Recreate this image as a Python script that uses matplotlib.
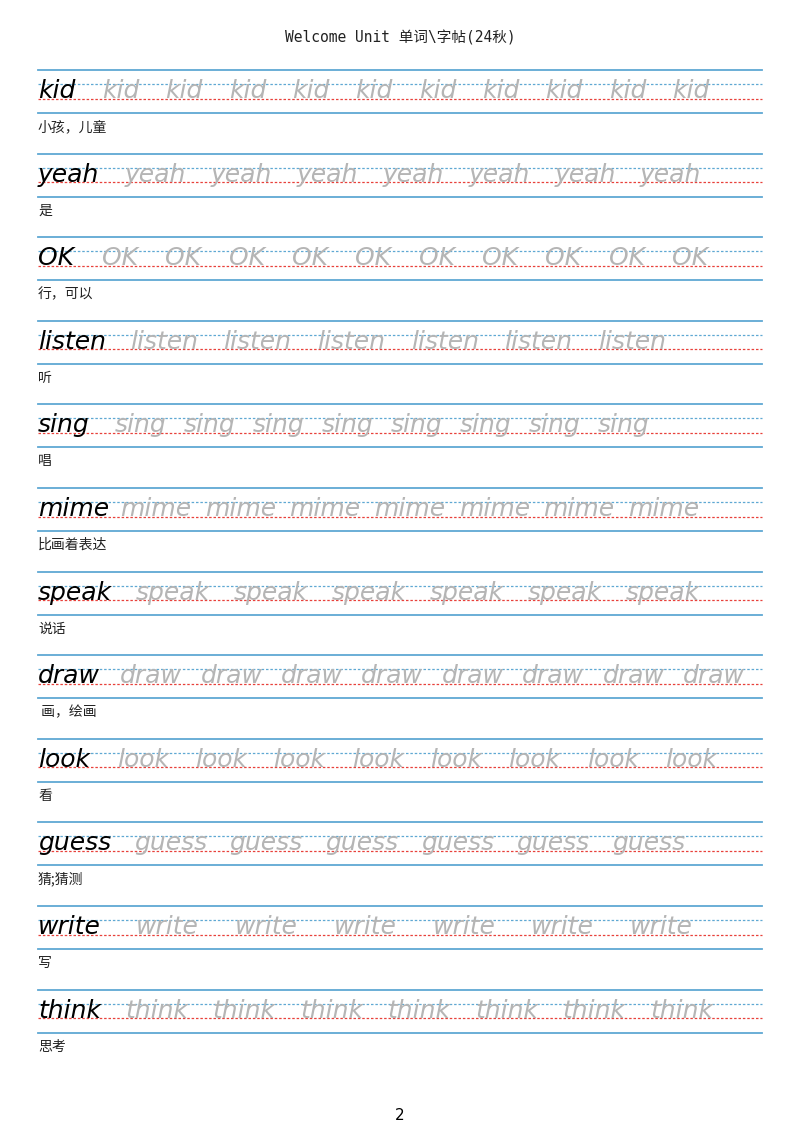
import matplotlib.pyplot as plt
import numpy as np

words = ["kid", "yeah", "OK", "listen", "sing", "mime", "speak", "draw",
         "look", "guess", "write", "think"]
meanings = ["小孩，儿童", "是", "行，可以", "听", "唱", "比画着表达", "说话",
            " 画，绘画", "看", "猜;猜测", "写", "思考"]
copies = [10, 7, 10, 6, 8, 7, 6, 8, 8, 6, 6, 7]
# first and last copy start (px), read from the page
first_copy = [102, 125, 102, 130, 115, 120, 136, 120, 117, 134, 136, 125]
last_copy = [672, 640, 672, 598, 598, 628, 626, 683, 665, 612, 630, 650]
title = "Welcome Unit 单词\\字帖(24秋)"
page_no = "2"

W, H = 800, 1131
fig = plt.figure(figsize=(W / 100, H / 100), dpi=100)
ax = fig.add_axes([0, 0, 1, 1])
ax.set_xlim(0, W)
ax.set_ylim(H, 0)
ax.axis("off")

cjk = ["Noto Sans CJK SC", "DejaVu Sans"]
ax.text(400, 38, title, ha="center", va="center", fontsize=10.5,
        family=["DejaVu Sans Mono", "Noto Sans CJK SC"], color="#222222")

blue = "#5fa8d3"
red = "#e8413b"
pitch = 83.6
x0, x1 = 38, 762
for i, w in enumerate(words):
    top = 70 + i * pitch
    ax.plot([x0, x1], [top, top], color=blue, lw=1.3)
    ax.plot([x0, x1], [top + 14, top + 14], color=blue, lw=0.9, ls=(0, (2, 1.5)))
    ax.plot([x0, x1], [top + 28.5, top + 28.5], color=red, lw=0.9, ls=(0, (2, 1.5)))
    ax.plot([x0, x1], [top + 43, top + 43], color=blue, lw=1.3)
    base = top + 28
    ax.text(x0, base, w, fontsize=18, style="italic", family="DejaVu Sans",
            color="black", va="baseline", ha="left")
    for xc in np.linspace(first_copy[i], last_copy[i], copies[i]):
        ax.text(xc, base, w, fontsize=18, style="italic", family="DejaVu Sans",
                color="#b5b5b5", va="baseline", ha="left")
    ax.text(x0, top + 57, meanings[i], fontsize=10, family=cjk,
            color="#222222", va="center", ha="left")

ax.text(400, 1115, page_no, ha="center", va="center", fontsize=11,
        family="DejaVu Sans")

fig.savefig("out.png", dpi=100)
